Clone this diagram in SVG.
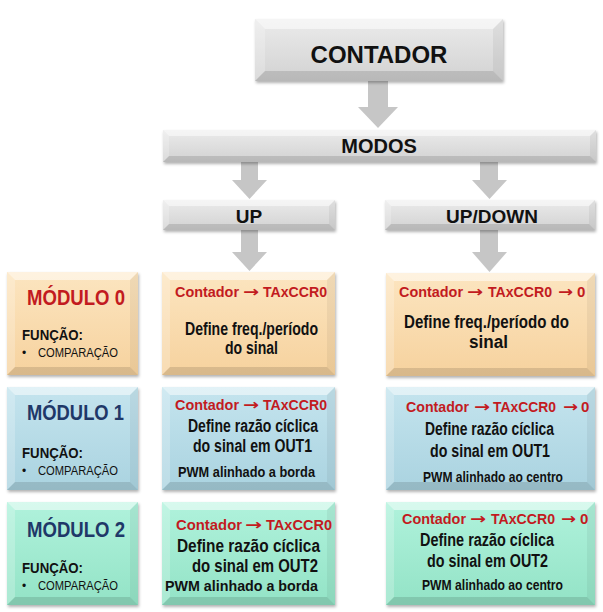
<svg xmlns="http://www.w3.org/2000/svg" xmlns:xlink="http://www.w3.org/1999/xlink" width="603" height="612" viewBox="0 0 603 612">
<defs>
<linearGradient id="gGray" x1="0" y1="0" x2="0" y2="1"><stop offset="0" stop-color="#ebebeb"/><stop offset="1" stop-color="#d2d2d2"/></linearGradient>
<linearGradient id="gPeach" x1="0" y1="0" x2="0" y2="1"><stop offset="0" stop-color="#fce5c0"/><stop offset="1" stop-color="#f6d29e"/></linearGradient>
<linearGradient id="gBlue" x1="0" y1="0" x2="0" y2="1"><stop offset="0" stop-color="#c4e4ee"/><stop offset="1" stop-color="#aad3e0"/></linearGradient>
<linearGradient id="gMint" x1="0" y1="0" x2="0" y2="1"><stop offset="0" stop-color="#b0f2dc"/><stop offset="1" stop-color="#93e3c6"/></linearGradient>
<filter id="sh" x="-5%" y="-5%" width="110%" height="120%"><feDropShadow dx="1" dy="2" stdDeviation="1.5" flood-color="#000" flood-opacity="0.3"/></filter>
<g id="bevC"><polygon class="bt" points="0,0 248,0 238,10 10,10"/><polygon class="bl" points="0,0 10,10 10,52 0,62"/><polygon class="br" points="248,0 248,62 238,52 238,10"/><polygon class="bb" points="0,62 10,52 238,52 248,62"/></g>
<g id="bevMo"><polygon class="bt" points="0,0 433,0 427,6 6,6"/><polygon class="bl" points="0,0 6,6 6,26 0,32"/><polygon class="br" points="433,0 433,32 427,26 427,6"/><polygon class="bb" points="0,32 6,26 427,26 433,32"/></g>
<g id="bevU"><polygon class="bt" points="0,0 172,0 166,6 6,6"/><polygon class="bl" points="0,0 6,6 6,24 0,30"/><polygon class="br" points="172,0 172,30 166,24 166,6"/><polygon class="bb" points="0,30 6,24 166,24 172,30"/></g>
<g id="bevUD"><polygon class="bt" points="0,0 210,0 204,6 6,6"/><polygon class="bl" points="0,0 6,6 6,24 0,30"/><polygon class="br" points="210,0 210,30 204,24 204,6"/><polygon class="bb" points="0,30 6,24 204,24 210,30"/></g>
<g id="bevM"><polygon class="bt" points="0,0 131,0 123,8 8,8"/><polygon class="bl" points="0,0 8,8 8,95 0,103"/><polygon class="br" points="131,0 131,103 123,95 123,8"/><polygon class="bb" points="0,103 8,95 123,95 131,103"/></g>
<g id="bevP"><polygon class="bt" points="0,0 173,0 165,8 8,8"/><polygon class="bl" points="0,0 8,8 8,95 0,103"/><polygon class="br" points="173,0 173,103 165,95 165,8"/><polygon class="bb" points="0,103 8,95 165,95 173,103"/></g>
<g id="bevQ"><polygon class="bt" points="0,0 209,0 201,8 8,8"/><polygon class="bl" points="0,0 8,8 8,95 0,103"/><polygon class="br" points="209,0 209,103 201,95 201,8"/><polygon class="bb" points="0,103 8,95 201,95 209,103"/></g>
</defs>
<style>
.bt{fill:#fff;fill-opacity:.5}
.bl{fill:#fff;fill-opacity:.22}
.br{fill:#000;fill-opacity:.05}
.bb{fill:#000;fill-opacity:.12}
.gray{fill:url(#gGray);filter:url(#sh)}
.peach{fill:url(#gPeach);filter:url(#sh)}
.blue{fill:url(#gBlue);filter:url(#sh)}
.mint{fill:url(#gMint);filter:url(#sh)}
text{font-family:"Liberation Sans",Arial,sans-serif;font-weight:bold;fill:#111}
.ar{font-family:"DejaVu Sans",sans-serif}
.h1{font-size:24px}
.h2{font-size:20px}
.h3{font-size:19px}
.mod{font-size:22px}
.red{fill:#c21b1f}
.navy{fill:#1f3868}
.t15{font-size:15px}
.t16{font-size:18px}
.t13{font-size:14px}
.fn{font-size:14px}
.cp{font-size:12px;font-weight:normal}
.arrow{fill:#c6c6c6}
</style>
<g id="connectors">
<polygon class="arrow" points="368,81 388,81 388,107 398,107 378,128 358,107 368,107"/>
<polygon class="arrow" points="241,162 258,162 258,180 267,180 249.5,199 232,180 241,180"/>
<polygon class="arrow" points="480,162 498,162 498,180 507,180 489.5,199 472,180 480,180"/>
<polygon class="arrow" points="241,230 258,230 258,252 267,252 249.5,271 232,252 241,252"/>
<polygon class="arrow" points="480,230 498,230 498,252 507,252 489.5,272 472,252 480,252"/>
</g>
<g id="contador"><rect class="gray" x="255" y="19" width="248" height="62"/><use href="#bevC" x="255" y="19"/><text class="h1" x="379" y="63" text-anchor="middle">CONTADOR</text></g>
<g id="modos"><rect class="gray" x="163" y="130" width="433" height="32"/><use href="#bevMo" x="163" y="130"/><text class="h2" x="379" y="153" text-anchor="middle">MODOS</text></g>
<g id="up"><rect class="gray" x="163" y="200" width="172" height="30"/><use href="#bevU" x="163" y="200"/><text class="h3" x="249" y="223" text-anchor="middle">UP</text></g>
<g id="updown"><rect class="gray" x="385" y="200" width="210" height="30"/><use href="#bevUD" x="385" y="200"/><text class="h3" x="492" y="223" text-anchor="middle">UP/DOWN</text></g>

<g id="modulo0"><rect class="peach" x="7" y="272" width="131" height="103"/><use href="#bevM" x="7" y="272"/>
<text class="mod red" x="27" y="305" textLength="98" lengthAdjust="spacingAndGlyphs">MÓDULO 0</text>
<text class="fn" x="22" y="340" textLength="61" lengthAdjust="spacingAndGlyphs">FUNÇÃO:</text>
<text class="cp" x="22" y="357">•</text>
<text class="cp" x="38" y="357" textLength="80" lengthAdjust="spacingAndGlyphs">COMPARAÇÃO</text></g>
<g id="up0"><rect class="peach" x="162" y="272" width="173" height="103"/><use href="#bevP" x="162" y="272"/>
<text class="t15 red" x="175" y="297" textLength="64" lengthAdjust="spacingAndGlyphs">Contador</text>
<text class="t15 red ar" x="243" y="297" textLength="16" lengthAdjust="spacingAndGlyphs">→</text>
<text class="t15 red" x="263" y="297" textLength="64" lengthAdjust="spacingAndGlyphs">TAxCCR0</text>
<text class="t16" x="185" y="335" textLength="133" lengthAdjust="spacingAndGlyphs">Define freq./período</text>
<text class="t16" x="225" y="354" textLength="53" lengthAdjust="spacingAndGlyphs">do sinal</text></g>
<g id="ud0"><rect class="peach" x="386" y="273" width="209" height="103"/><use href="#bevQ" x="386" y="273"/>
<text class="t15 red" x="399" y="297" textLength="64" lengthAdjust="spacingAndGlyphs">Contador</text>
<text class="t15 red ar" x="467" y="297" textLength="16" lengthAdjust="spacingAndGlyphs">→</text>
<text class="t15 red" x="488" y="297" textLength="64" lengthAdjust="spacingAndGlyphs">TAxCCR0</text>
<text class="t15 red ar" x="558" y="297" textLength="15" lengthAdjust="spacingAndGlyphs">→</text>
<text class="t15 red" x="577" y="297">0</text>
<text class="t16" x="404" y="328" textLength="165" lengthAdjust="spacingAndGlyphs">Define freq./período do</text>
<text class="t16" x="469" y="348" textLength="39" lengthAdjust="spacingAndGlyphs">sinal</text></g>

<g id="modulo1"><rect class="blue" x="7" y="387" width="131" height="103"/><use href="#bevM" x="7" y="387"/>
<text class="mod navy" x="27" y="420" textLength="97" lengthAdjust="spacingAndGlyphs">MÓDULO 1</text>
<text class="fn" x="22" y="458" textLength="61" lengthAdjust="spacingAndGlyphs">FUNÇÃO:</text>
<text class="cp" x="22" y="475">•</text>
<text class="cp" x="38" y="475" textLength="80" lengthAdjust="spacingAndGlyphs">COMPARAÇÃO</text></g>
<g id="up1"><rect class="blue" x="162" y="387" width="173" height="103"/><use href="#bevP" x="162" y="387"/>
<text class="t15 red" x="175" y="410" textLength="64" lengthAdjust="spacingAndGlyphs">Contador</text>
<text class="t15 red ar" x="243" y="410" textLength="16" lengthAdjust="spacingAndGlyphs">→</text>
<text class="t15 red" x="263" y="410" textLength="64" lengthAdjust="spacingAndGlyphs">TAxCCR0</text>
<text class="t16" x="188" y="432" textLength="130" lengthAdjust="spacingAndGlyphs">Define razão cíclica</text>
<text class="t16" x="193" y="452" textLength="119" lengthAdjust="spacingAndGlyphs">do sinal em OUT1</text>
<text class="t13" x="178" y="477" textLength="137" lengthAdjust="spacingAndGlyphs">PWM alinhado a borda</text></g>
<g id="ud1"><rect class="blue" x="386" y="387" width="209" height="103"/><use href="#bevQ" x="386" y="387"/>
<text class="t15 red" x="406" y="412" textLength="63" lengthAdjust="spacingAndGlyphs">Contador</text>
<text class="t15 red ar" x="474" y="412" textLength="16" lengthAdjust="spacingAndGlyphs">→</text>
<text class="t15 red" x="493" y="412" textLength="63" lengthAdjust="spacingAndGlyphs">TAxCCR0</text>
<text class="t15 red ar" x="563" y="412" textLength="15" lengthAdjust="spacingAndGlyphs">→</text>
<text class="t15 red" x="581" y="412">0</text>
<text class="t16" x="425" y="435" textLength="129" lengthAdjust="spacingAndGlyphs">Define razão cíclica</text>
<text class="t16" x="430" y="457" textLength="120" lengthAdjust="spacingAndGlyphs">do sinal em OUT1</text>
<text class="t13" x="423" y="482" textLength="140" lengthAdjust="spacingAndGlyphs">PWM alinhado ao centro</text></g>

<g id="modulo2"><rect class="mint" x="7" y="502" width="131" height="103"/><use href="#bevM" x="7" y="502"/>
<text class="mod navy" x="27" y="537" textLength="98" lengthAdjust="spacingAndGlyphs">MÓDULO 2</text>
<text class="fn" x="22" y="573" textLength="61" lengthAdjust="spacingAndGlyphs">FUNÇÃO:</text>
<text class="cp" x="22" y="590">•</text>
<text class="cp" x="38" y="590" textLength="80" lengthAdjust="spacingAndGlyphs">COMPARAÇÃO</text></g>
<g id="up2"><rect class="mint" x="162" y="502" width="173" height="103"/><use href="#bevP" x="162" y="502"/>
<text class="t15 red" x="176" y="530" textLength="66" lengthAdjust="spacingAndGlyphs">Contador</text>
<text class="t15 red ar" x="245" y="530" textLength="17" lengthAdjust="spacingAndGlyphs">→</text>
<text class="t15 red" x="266" y="530" textLength="66" lengthAdjust="spacingAndGlyphs">TAxCCR0</text>
<text class="t16" x="177" y="552" textLength="143" lengthAdjust="spacingAndGlyphs">Define razão cíclica</text>
<text class="t16" x="192" y="572" textLength="126" lengthAdjust="spacingAndGlyphs">do sinal em OUT2</text>
<text class="t13" x="165" y="591" textLength="153" lengthAdjust="spacingAndGlyphs">PWM alinhado a borda</text></g>
<g id="ud2"><rect class="mint" x="386" y="502" width="209" height="103"/><use href="#bevQ" x="386" y="502"/>
<text class="t15 red" x="402" y="524" textLength="64" lengthAdjust="spacingAndGlyphs">Contador</text>
<text class="t15 red ar" x="470" y="524" textLength="16" lengthAdjust="spacingAndGlyphs">→</text>
<text class="t15 red" x="491" y="524" textLength="64" lengthAdjust="spacingAndGlyphs">TAxCCR0</text>
<text class="t15 red ar" x="561" y="524" textLength="15" lengthAdjust="spacingAndGlyphs">→</text>
<text class="t15 red" x="580" y="524">0</text>
<text class="t16" x="420" y="546" textLength="134" lengthAdjust="spacingAndGlyphs">Define razão cíclica</text>
<text class="t16" x="427" y="567" textLength="121" lengthAdjust="spacingAndGlyphs">do sinal em OUT2</text>
<text class="t13" x="422" y="590" textLength="141" lengthAdjust="spacingAndGlyphs">PWM alinhado ao centro</text></g>
</svg>
